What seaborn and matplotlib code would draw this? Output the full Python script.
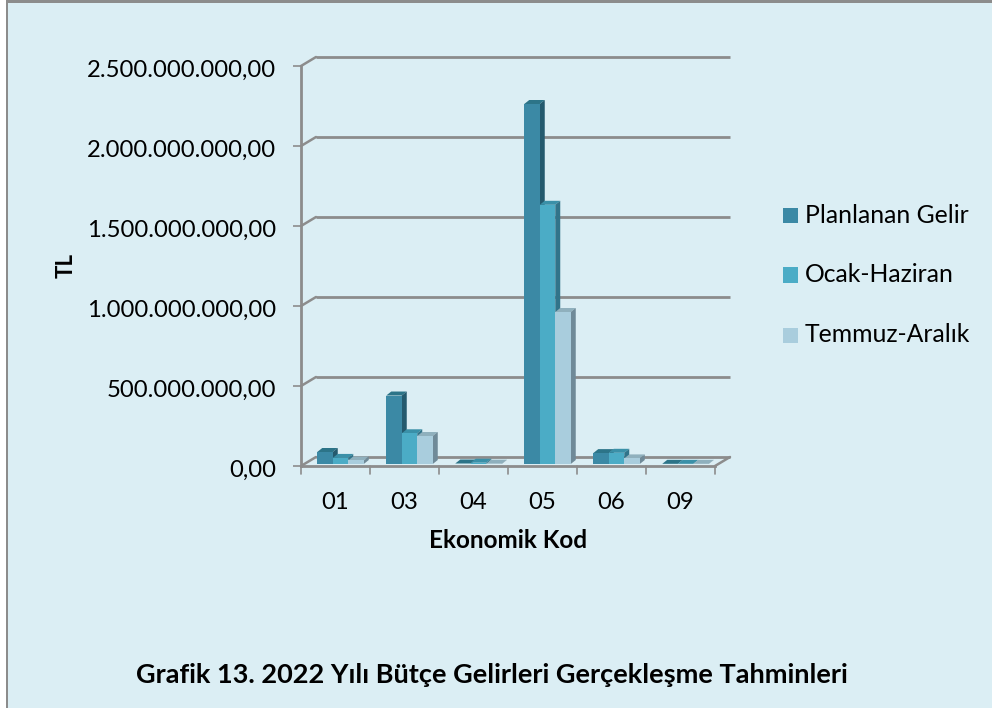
import matplotlib
matplotlib.use("Agg")
import matplotlib.pyplot as plt
from matplotlib.patches import Polygon
from matplotlib.transforms import ScaledTranslation
import pandas as pd
import seaborn as sns

categories = ["01", "03", "04", "05", "06", "09"]
series_names = ["Planlanan Gelir", "Ocak-Haziran", "Temmuz-Aralık"]
planlanan = [75e6, 428e6, 3e6, 2250e6, 68e6, 1e6]
ocak = [38e6, 192e6, 8e6, 1620e6, 70e6, 1e6]
temmuz = [22e6, 175e6, 2e6, 950e6, 35e6, 1e6]
front = ["#3B89A5", "#4BACC6", "#A9CDDD"]
side = ["#245A6E", "#31748A", "#6F8A98"]
top = ["#2C7488", "#3A90A8", "#8FB0BD"]
bg = "#DBEEF4"
grey = "#8C8C8C"
yticks = [0, 5e8, 1e9, 1.5e9, 2e9, 2.5e9]
ylabels = ["0,00", "500.000.000,00", "1.000.000.000,00", "1.500.000.000,00",
           "2.000.000.000,00", "2.500.000.000,00"]

W, H = 992, 708
unit = 1 / 100
sns.set_theme(style="white")
plt.rcParams["font.family"] = ["Lato", "DejaVu Sans"]
fig = plt.figure(figsize=(W / 100, H / 100), dpi=100, facecolor=bg)
ax = fig.add_axes([301 / W, 1 - 466 / H, 414 / W, 400 / H])
ax.patch.set_alpha(0)

df = pd.DataFrame({
    "kod": categories * 3,
    "seri": sum([[n] * 6 for n in series_names], []),
    "tl": planlanan + ocak + temmuz,
})
sns.barplot(data=df, x="kod", y="tl", hue="seri", hue_order=series_names,
            palette=front, width=0.674, gap=0, saturation=1, errorbar=None,
            legend=False, ax=ax, linewidth=0, zorder=5)
ax.set_xlim(-0.5, 5.5)
ax.set_ylim(0, 2.5e9)
fig.canvas.draw()

lift = ax.transData + ScaledTranslation(5 * unit, 2 * unit, fig.dpi_scale_trans)
wall = ax.transData + ScaledTranslation(15 * unit, 9 * unit, fig.dpi_scale_trans)
inv = fig.dpi_scale_trans.inverted()

# back wall gridlines, depth connectors and floor
for v in yticks:
    ax.plot([-0.5, 5.5], [v, v], color=grey, lw=2.0, transform=wall,
            clip_on=False, zorder=1, solid_capstyle="butt")

def depth_line(x, v):
    x0, y0 = inv.transform(ax.transData.transform((x, v)))
    ax.add_line(plt.Line2D([x0, x0 + 15 * unit], [y0, y0 + 9 * unit], color=grey, lw=1.8,
                           transform=fig.dpi_scale_trans, zorder=1, clip_on=False))

for v in yticks:
    depth_line(-0.5, v)
depth_line(5.5, 0)

# depth faces of each bar, drawn series by series so neighbours overlap correctly
dx, dy = 5 * unit, 4 * unit
for k in range(3):
    for b in ax.patches[k * 6:(k + 1) * 6]:
        b.set_transform(lift)
        b.set_zorder(5 + 2 * k + 1)
        b.set_clip_on(False)
        (x0, y0), (x1, y1) = inv.transform(lift.transform(
            [(b.get_x(), 0), (b.get_x() + b.get_width(), b.get_height())]))
        ax.add_patch(Polygon([(x0, y1), (x1, y1), (x1 + dx, y1 + dy), (x0 + dx, y1 + dy)],
                             closed=True, fc=top[k], ec="none", zorder=5 + 2 * k,
                             transform=fig.dpi_scale_trans, clip_on=False))
        ax.add_patch(Polygon([(x1, y0), (x1, y1), (x1 + dx, y1 + dy), (x1 + dx, y0 + dy)],
                             closed=True, fc=side[k], ec="none", zorder=5 + 2 * k,
                             transform=fig.dpi_scale_trans, clip_on=False))

# front axes
for s in ["top", "right"]:
    ax.spines[s].set_visible(False)
for s in ["left", "bottom"]:
    ax.spines[s].set_color(grey)
    ax.spines[s].set_linewidth(2.0)
    ax.spines[s].set_zorder(4)
ax.set_yticks(yticks, ylabels)
ax.set_xticks(range(6), categories)
ax.tick_params(axis="y", length=5.8, width=1.2, color=grey, pad=12, labelsize=17.2,
               labelcolor="black", left=True)
ax.tick_params(axis="x", length=0, pad=18.5, labelsize=17.2, labelcolor="black")
nudge = ScaledTranslation(0, -2 * unit, fig.dpi_scale_trans)
for lab in ax.get_yticklabels():
    lab.set_transform(lab.get_transform() + nudge)
for x in [-0.5, 0.5, 1.5, 2.5, 3.5, 4.5, 5.5]:
    ax.plot([x, x], [0, -8 * 2.5e9 / 400], color=grey, lw=1.2, clip_on=False, zorder=4)
ax.set_ylim(0, 2.5e9)
ax.set_xlim(-0.5, 5.5)
ax.set_xlabel("")
ax.set_ylabel("")

fig.text(66 / W, 1 - 265 / H, "TL", rotation=90, ha="center", va="center",
         fontsize=16, fontweight="bold", color="black")
fig.text(508 / W, 1 - 541 / H, "Ekonomik Kod", ha="center", va="center",
         fontsize=17.5, fontweight="bold", color="black")
fig.text(492 / W, 1 - 675 / H, "Grafik 13. 2022 Yılı Bütçe Gelirleri Gerçekleşme Tahminleri",
         ha="center", va="center", fontsize=19.5, fontweight="bold", color="black")

# legend
for name, col, yp in zip(series_names, front, [215.5, 275, 335]):
    fig.patches.append(plt.Rectangle((783 / W, 1 - (yp + 7.5) / H), 15 / W, 15 / H, fc=col, ec="none",
                                     transform=fig.transFigure))
    fig.text(805 / W, 1 - yp / H, name, ha="left", va="center", fontsize=17.8, color="black")

# chart frame: only the left and top edges reach the picture, white margin outside
fig.patches.append(plt.Rectangle((0, 0), 5.5 / W, 1, fc="white", ec="none", transform=fig.transFigure))
fig.patches.append(plt.Rectangle((5.5 / W, 0), 2.5 / W, 1, fc=grey, ec="none", transform=fig.transFigure))
fig.patches.append(plt.Rectangle((5.5 / W, 1 - 2.5 / H), 1, 2.5 / H, fc=grey, ec="none", transform=fig.transFigure))
fig.savefig("out.png", dpi=100, facecolor=bg)
